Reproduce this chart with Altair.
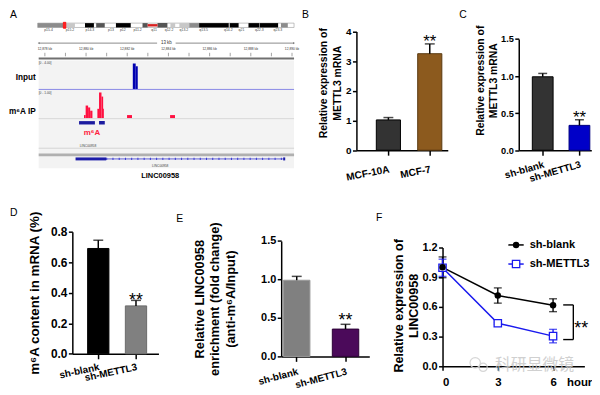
import altair as alt
import pandas as pd

FONT = "Liberation Sans"
CJK = "Noto Sans CJK SC"

# ======================= DATA =======================
# ---- Panel A: IGV view of LINC00958 (chr11) ----
CHR_LEN = 135.0
IDEO_START = [0.0, 14.8, 24.9, 30.8, 41.2, 55.2, 63.1, 69.9, 74.6, 79.8, 85.0, 101.1, 111.0, 116.9, 128.1]
IDEO_END = [13.5, 19.6, 29.6, 35.3, 49.0, 57.9, 68.3, 72.4, 79.7, 85.0, 100.6, 105.8, 116.7, 126.6, 131.7]
IDEO_STAIN = ["gpos50", "gpos25", "gpos100", "gpos75", "gpos100", "gpos75", "gpos75", "gpos25",
              "gpos25", "gpos50", "gpos100", "gpos100", "gpos100", "gpos100", "gpos50"]
CENTROMERE = [57.9, 63.1]
LOCUS = [13.5, 14.8]
IDEO_LABELS = ["p15.4", "p15.2", "p14.3", "p13", "p12", "p11.2", "q11", "q12.2", "q13.2",
               "q13.5", "q14.2", "q21", "q22.3", "q23.3"]
IDEO_LABEL_POS = [5.7, 17.0, 27.5, 38.6, 44.8, 52.6, 61.3, 69.2, 77.0, 87.4, 100.4, 107.3, 116.7, 126.5]

REGION = [12877.7, 12890.1]          # kb
RULER_TICKS = [12878, 12879, 12880, 12881, 12882, 12883, 12884, 12885, 12886, 12887, 12888, 12889, 12890]
RULER_LABELS = [12878, 12880, 12882, 12884, 12886, 12888, 12890]
RULER_TEXT = "13 kb"

INPUT_START = [12882.27, 12882.41]
INPUT_END = [12882.41, 12882.51]
INPUT_VAL = [3.7, 3.3]
INPUT_MAX = 4.0

IP_START = [12879.90, 12879.98, 12880.10, 12880.20, 12880.55, 12880.63, 12880.75, 12880.83, 12881.99, 12884.08]
IP_END = [12879.98, 12880.10, 12880.20, 12880.31, 12880.63, 12880.75, 12880.83, 12880.87, 12882.23, 12884.32]
IP_VAL = [0.12, 0.47, 0.40, 0.28, 0.35, 0.95, 0.80, 0.35, 0.12, 0.12]
IP_MAX = 1.0

PEAK_START = [12879.66, 12880.63]
PEAK_END = [12880.43, 12880.91]
EXON_START = [12879.49, 12889.57]
EXON_END = [12880.98, 12889.67]
GENE = "LINC00958"
TRACK_NAMES = ["Input", "m⁶A IP"]

# ---- Panel B ----
B_CATS = ["MCF-10A", "MCF-7"]
B_VALS = [1.02, 3.25]
B_ERRS = [0.08, 0.33]
B_FILL = ["#333333", "#8c5a1e"]

# ---- Panel C ----
SH_CATS = ["sh-blank", "sh-METTL3"]
C_VALS = [0.99, 0.335]
C_ERRS = [0.045, 0.075]
C_FILL = ["#333333", "#0000c8"]

# ---- Panel D ----
D_VALS = [0.69, 0.314]
D_ERRS = [0.054, 0.036]
D_FILL = ["#000000", "#808080"]

# ---- Panel E ----
E_VALS = [0.99, 0.355]
E_ERRS = [0.05, 0.062]
E_FILL = ["#808080", "#4b0a5a"]

# ---- Panel F ----
F_HOURS = [0, 3, 6]
F_SERIES = ["sh-blank", "sh-METTL3"]
F_BLANK = [1.0, 0.715, 0.617]
F_BLANK_ERR = [0.105, 0.077, 0.065]
F_METTL = [0.995, 0.435, 0.305]
F_METTL_ERR = [0.087, 0.01, 0.068]
F_BRACKET = dict(x0=6.55, x1=7.1, ytop=0.62, ybot=0.27)
F_STAR_POS = (7.53, 0.433)
WATERMARK = "科研显微镜"

# ======================= HELPERS =======================
ONE = pd.DataFrame({"k": [0]})


def letter(txt, x, y):
    return alt.Chart(ONE).mark_text(text=txt, align="left", baseline="middle", fontSize=10.5,
                                    font=FONT, color="black").encode(x=alt.value(x), y=alt.value(y))


def ytitle_axis(title, ticks, fmt, tsize, tlh, tx, ty, lsize):
    return alt.Axis(values=ticks, format=fmt, title=title, titleFont=FONT, titleFontSize=tsize,
                    titleFontWeight="bold", titleLineHeight=tlh, titleX=tx, titleY=ty,
                    titleAngle=270, titleAlign="center", titleBaseline="top", titleColor="black",
                    labelFont=FONT, labelFontSize=lsize, labelFontWeight="bold", labelColor="black",
                    labelPadding=1.5, tickSize=4, tickWidth=1.5, tickColor="black",
                    domainColor="black", domainWidth=1.5, grid=False)


def bar_panel(cats, vals, errs, fills, strokes, *, W, H, xr, centers, bw, ydom, yr, yticks, yfmt,
              title, tsize, tlh, tx, ty, tick_size, lab_size, angle, lab_pad, let, lxy, star_dy, cap,
              star_size):
    n = len(cats)
    step = centers[1] - centers[0]
    p_in = 1 - bw / step
    p_out = (xr / step - n + p_in) / 2
    off = centers[0] - bw / 2
    al = off / (2 * p_out * step) if p_out > 0 else 0.5
    df = pd.DataFrame({"cat": cats, "val": vals, "top": [v + e for v, e in zip(vals, errs)],
                       "fill": fills, "stroke": strokes, "star": ["", "**"]})
    xs = alt.Scale(domain=cats, range=[0, xr], paddingInner=p_in, paddingOuter=p_out, align=al)
    ys = alt.Scale(domain=ydom, range=yr, nice=False, zero=False)
    xax = alt.Axis(title=None, labelAngle=360 - angle, labelAlign="right", labelBaseline="top",
                   labelFont=FONT, labelFontSize=lab_size, labelFontWeight="bold", labelColor="black",
                   labelPadding=lab_pad, tickSize=5, tickWidth=1.5, tickColor="black",
                   domainColor="black", domainWidth=1.5, grid=False)
    yax = ytitle_axis(title, yticks, yfmt, tsize, tlh, tx, ty, tick_size)
    X = alt.X("cat:N", scale=xs, axis=xax, sort=cats)
    base = alt.Chart(df)
    bars = base.mark_bar(strokeWidth=1).encode(
        x=X, y=alt.Y("val:Q", scale=ys, axis=yax),
        fill=alt.Fill("fill:N", scale=None), stroke=alt.Stroke("stroke:N", scale=None))
    err = base.mark_rule(strokeWidth=1.5, color="black").encode(
        x=X, y=alt.Y("val:Q", scale=ys, axis=yax), y2="top:Q")
    caps = base.mark_tick(orient="horizontal", size=cap, thickness=1.5, color="black").encode(
        x=X, y=alt.Y("top:Q", scale=ys, axis=yax))
    stars = base.mark_text(fontSize=star_size, font=FONT, baseline="alphabetic", dy=star_dy,
                           color="black").encode(x=X, y=alt.Y("top:Q", scale=ys, axis=yax),
                                                 text="star:N")
    return alt.layer(bars, err, caps, stars, letter(let, *lxy)).properties(width=W, height=H)


# ======================= PANEL A =======================
W_A, H_A = 321.0, 163
G_RANGE = [0, 258]


def gx(field):
    return alt.X(field, scale=alt.Scale(domain=REGION, range=G_RANGE, nice=False, zero=False), axis=None)


ideo_sc = alt.Scale(domain=[0, CHR_LEN], range=[-1, 258], nice=False, zero=False)
stain_col = {"gpos25": "#c8c8c8", "gpos50": "#8c8c8c", "gpos75": "#555555", "gpos100": "#000000"}
ideo_df = pd.DataFrame({"s": IDEO_START, "e": IDEO_END, "c": [stain_col[s] for s in IDEO_STAIN]})
REG_DF = pd.DataFrame({"s": [REGION[0]], "e": [REGION[1]]})

a_layers = []
a_layers.append(alt.Chart(pd.DataFrame({"s": [0.0], "e": [CHR_LEN]})).mark_rect(
    fill="white", stroke="#9a9a9a", strokeWidth=0.6).encode(
    x=alt.X("s:Q", scale=ideo_sc, axis=None), x2="e:Q", y=alt.value(3.3), y2=alt.value(7.7)))
a_layers.append(alt.Chart(ideo_df).mark_rect().encode(
    x=alt.X("s:Q", scale=ideo_sc, axis=None), x2="e:Q", y=alt.value(3.3), y2=alt.value(7.7),
    color=alt.Color("c:N", scale=None)))
a_layers.append(alt.Chart(pd.DataFrame({"s": [CENTROMERE[0]], "e": [CENTROMERE[1]]})).mark_rect(
    color="#d82020").encode(x=alt.X("s:Q", scale=ideo_sc, axis=None), x2="e:Q",
                            y=alt.value(4.3), y2=alt.value(6.7)))
a_layers.append(alt.Chart(pd.DataFrame({"s": [LOCUS[0]], "e": [LOCUS[1]]})).mark_rect(
    fill="#ff2020", stroke="#ff0000", strokeWidth=0.8).encode(
    x=alt.X("s:Q", scale=ideo_sc, axis=None), x2="e:Q", y=alt.value(2.5), y2=alt.value(8.5)))
a_layers.append(alt.Chart(pd.DataFrame({"p": IDEO_LABEL_POS, "t": IDEO_LABELS})).mark_text(
    fontSize=3.5, font=FONT, color="#444444").encode(
    x=alt.X("p:Q", scale=ideo_sc, axis=None), y=alt.value(10.3), text="t:N"))

# ruler
mid = (REGION[0] + REGION[1]) / 2
a_layers.append(alt.Chart(pd.DataFrame({"s": [REGION[0], mid + 0.45], "e": [mid - 0.45, REGION[1]]}))
                .mark_rule(color="#555555", strokeWidth=0.7).encode(x=gx("s:Q"), x2="e:Q", y=alt.value(23.5)))
a_layers.append(alt.Chart(pd.DataFrame({"p": [REGION[0], REGION[1]], "sh": ["triangle-left", "triangle-right"]}))
                .mark_point(filled=True, size=5, color="#555555").encode(
    x=gx("p:Q"), y=alt.value(23.5), shape=alt.Shape("sh:N", scale=None)))
a_layers.append(alt.Chart(pd.DataFrame({"p": [mid]})).mark_text(
    text=RULER_TEXT, fontSize=4.5, font=FONT, color="#333333").encode(x=gx("p:Q"), y=alt.value(23.5)))
a_layers.append(alt.Chart(pd.DataFrame({"p": RULER_LABELS, "t": [f"{v:,} kb" for v in RULER_LABELS]}))
                .mark_text(fontSize=3.3, font=FONT, color="#333333").encode(
    x=gx("p:Q"), y=alt.value(29.3), text="t:N"))
a_layers.append(alt.Chart(pd.DataFrame({"p": RULER_TICKS})).mark_rule(color="#666666", strokeWidth=0.6)
                .encode(x=gx("p:Q"), y=alt.value(33.3), y2=alt.value(36.8)))
a_layers.append(alt.Chart(REG_DF).mark_rule(color="#707070", strokeWidth=2).encode(
    x=gx("s:Q"), x2="e:Q", y=alt.value(39)))
# track background
a_layers.append(alt.Chart(REG_DF).mark_rect(color="#f3f3f3").encode(
    x=gx("s:Q"), x2="e:Q", y=alt.value(41), y2=alt.value(150)))
# input track
inp_df = pd.DataFrame({"s": INPUT_START, "e": INPUT_END, "v": INPUT_VAL, "z": 0.0})
a_layers.append(alt.Chart(inp_df).mark_rect(color="#0000b0").encode(
    x=gx("s:Q"), x2="e:Q",
    y=alt.Y("v:Q", scale=alt.Scale(domain=[0, INPUT_MAX], range=[70, 42], nice=False), axis=None),
    y2="z:Q"))
a_layers.append(alt.Chart(REG_DF).mark_rule(color="#8a8ae6", strokeWidth=1).encode(
    x=gx("s:Q"), x2="e:Q", y=alt.value(70.3)))
a_layers.append(alt.Chart(pd.DataFrame({"p": [REGION[0]]})).mark_text(
    text=f"[0 - {INPUT_MAX:.2f}]", fontSize=3.3, font=FONT, align="left", color="#444444").encode(
    x=gx("p:Q"), y=alt.value(44)))
# m6A IP track
ip_df = pd.DataFrame({"s": IP_START, "e": IP_END, "v": IP_VAL, "z": 0.0})
a_layers.append(alt.Chart(ip_df).mark_rect(color="#ff1040").encode(
    x=gx("s:Q"), x2="e:Q",
    y=alt.Y("v:Q", scale=alt.Scale(domain=[0, IP_MAX], range=[99.5, 72], nice=False), axis=None),
    y2="z:Q"))
a_layers.append(alt.Chart(REG_DF).mark_rule(color="#d8d8d8", strokeWidth=1).encode(
    x=gx("s:Q"), x2="e:Q", y=alt.value(99.8)))
a_layers.append(alt.Chart(pd.DataFrame({"p": [REGION[0]]})).mark_text(
    text=f"[0 - {IP_MAX:.2f}]", fontSize=3.3, font=FONT, align="left", color="#444444").encode(
    x=gx("p:Q"), y=alt.value(74)))
# peak calls
a_layers.append(alt.Chart(pd.DataFrame({"s": PEAK_START, "e": PEAK_END})).mark_rect(
    color="#1c1ca0").encode(x=gx("s:Q"), x2="e:Q", y=alt.value(102.3), y2=alt.value(105.7)))
a_layers.append(alt.Chart(pd.DataFrame({"p": [(PEAK_START[0] + PEAK_END[1]) / 2]})).mark_text(
    text="m⁶A", fontSize=8, font=FONT, fontWeight="bold", color="#ff2040").encode(
    x=gx("p:Q"), y=alt.value(114.5)))
a_layers.append(alt.Chart(pd.DataFrame({"p": [(PEAK_START[0] + PEAK_END[0]) / 2 + 0.05]})).mark_text(
    text=GENE, fontSize=3.3, font=FONT, color="#444444").encode(x=gx("p:Q"), y=alt.value(127.3)))
a_layers.append(alt.Chart(REG_DF).mark_rule(color="#cccccc", strokeWidth=0.8).encode(
    x=gx("s:Q"), x2="e:Q", y=alt.value(129.7)))
a_layers.append(alt.Chart(REG_DF).mark_rule(color="#b0b0b0", strokeWidth=2.6).encode(
    x=gx("s:Q"), x2="e:Q", y=alt.value(136.4)))
# gene model
a_layers.append(alt.Chart(pd.DataFrame({"s": [EXON_END[0]], "e": [EXON_START[1]]})).mark_rule(
    color="#3a3ad0", strokeWidth=0.8).encode(x=gx("s:Q"), x2="e:Q", y=alt.value(140.5)))
a_layers.append(alt.Chart(pd.DataFrame({"s": [EXON_END[0]], "e": [EXON_START[1]]})).mark_rule(
    color="#3a3ad0", strokeWidth=2.2, strokeDash=[1, 5.3]).encode(x=gx("s:Q"), x2="e:Q", y=alt.value(140.5)))
a_layers.append(alt.Chart(pd.DataFrame({"s": EXON_START, "e": EXON_END})).mark_rect(
    color="#1c1ca8").encode(x=gx("s:Q"), x2="e:Q", y=alt.value(139), y2=alt.value(142)))
a_layers.append(alt.Chart(pd.DataFrame({"p": [mid - 0.3]})).mark_text(
    text=GENE, fontSize=3.3, font=FONT, color="#444444").encode(x=gx("p:Q"), y=alt.value(147.7)))
a_layers.append(alt.Chart(pd.DataFrame({"p": [mid - 0.3]})).mark_text(
    text=GENE, fontSize=7.5, font=FONT, fontWeight="bold", color="black").encode(
    x=gx("p:Q"), y=alt.value(158)))
# track labels
for name, yy in zip(TRACK_NAMES, [59, 93]):
    a_layers.append(alt.Chart(ONE).mark_text(
        text=name, fontSize=8.3, font=FONT, fontWeight="bold", align="right", baseline="middle",
        color="black").encode(x=alt.value(-3), y=alt.value(yy)))
a_layers.append(letter("A", -29, -5))

panelA = alt.layer(*a_layers).resolve_scale(x="independent", y="independent").properties(
    width=W_A, height=H_A)

# ======================= PANELS B / C =======================
panelB = bar_panel(B_CATS, B_VALS, B_ERRS, B_FILL, ["#000000", "#5a3a10"],
                   W=164.0, H=131.7, xr=92.3, centers=[32.3, 74.1], bw=24.4,
                   ydom=[0, 4], yr=[131.7, 11.7], yticks=[0, 1, 2, 3, 4], yfmt="d",
                   title=["Relative expression of", "METTL3 mRNA"], tsize=10.5, tlh=14.5, tx=-38.5, ty=63.5,
                   tick_size=10, lab_size=10.2, angle=11, lab_pad=9, let="B", lxy=(-55, -5),
                   star_dy=3, cap=10, star_size=17)
panelC = bar_panel(SH_CATS, C_VALS, C_ERRS, C_FILL, ["#000000", "#000080"],
                   W=73.3, H=131.7, xr=73.3, centers=[24.2, 61.3], bw=21,
                   ydom=[0, 1.5], yr=[131.7, 19.3], yticks=[0, 0.5, 1.0, 1.5], yfmt=".1f",
                   title=["Relative expression of", "METTL3 mRNA"], tsize=10.5, tlh=14, tx=-44, ty=61,
                   tick_size=9.3, lab_size=10, angle=16, lab_pad=4, let="C", lxy=(-60, -5),
                   star_dy=3, cap=9, star_size=17)

# ======================= PANELS D / E =======================
panelD = bar_panel(SH_CATS, D_VALS, D_ERRS, D_FILL, ["#000000", "#6a6a6a"],
                   W=211, H=123.4, xr=87, centers=[26.2, 64.3], bw=21.5,
                   ydom=[0, 0.8], yr=[123.4, 0], yticks=[0, 0.2, 0.4, 0.6, 0.8], yfmt=".1f",
                   title="m⁶A content in mRNA (%)", tsize=13.5, tlh=15, tx=-45, ty=61.7,
                   tick_size=12, lab_size=10, angle=12, lab_pad=3, let="D", lxy=(-63, -19),
                   star_dy=5.5, cap=10, star_size=18)
panelE = bar_panel(SH_CATS, E_VALS, E_ERRS, E_FILL, ["#9a9a9a", "#2a0035"],
                   W=163, H=126, xr=89, centers=[15.7, 65], bw=26.7,
                   ydom=[0, 1.5], yr=[126, 9.4], yticks=[0, 0.5, 1.0, 1.5], yfmt=".1f",
                   title=["Relative LINC00958", "enrichment (fold change)", "(anti-m⁶A/Input)"],
                   tsize=13, tlh=15.5, tx=-88.5, ty=67.7,
                   tick_size=11, lab_size=10, angle=15, lab_pad=5, let="E", lxy=(-106, -12.3),
                   star_dy=2, cap=10, star_size=18)

# ======================= PANEL F =======================
W_F, H_F = 143.3, 136
fx = alt.Scale(domain=[0, 7.7], range=[0, W_F], nice=False, zero=False)
fy = alt.Scale(domain=[0, 1.2], range=[H_F, 16], nice=False, zero=False)
fxax = alt.Axis(values=F_HOURS, format="d", title="hour", titleX=138, titleY=16.5, titleAlign="center",
                titleBaseline="middle", titleFont=FONT, titleFontSize=11.5, titleFontWeight="bold",
                titleColor="black", labelFont=FONT, labelFontSize=11.5, labelFontWeight="bold",
                labelColor="black", labelPadding=6, tickSize=4, tickWidth=1.5, tickColor="black",
                domainColor="black", domainWidth=1.5, grid=False)
fyax = ytitle_axis(["Relative expression of", "LINC00958"], [0, 0.3, 0.6, 0.9, 1.2], ".1f",
                   12.7, 15.5, -50.5, 74.4, 11)
FX = alt.X("t:Q", scale=fx, axis=fxax)
col_sc = alt.Scale(domain=F_SERIES, range=["#000000", "#1a1aee"])

f_rows = []
for s, vals, errs in [(F_SERIES[0], F_BLANK, F_BLANK_ERR), (F_SERIES[1], F_METTL, F_METTL_ERR)]:
    for t, v, e in zip(F_HOURS, vals, errs):
        f_rows.append({"series": s, "t": t, "m": v, "lo": v - e, "hi": v + e})
fdf = pd.DataFrame(f_rows)
cap_df = pd.concat([fdf.assign(c=fdf["lo"]), fdf.assign(c=fdf["hi"])])

f_err = alt.Chart(fdf).mark_rule(strokeWidth=1.4).encode(
    x=FX, y=alt.Y("lo:Q", scale=fy, axis=fyax), y2="hi:Q",
    color=alt.Color("series:N", scale=col_sc, legend=None))
f_caps = alt.Chart(cap_df).mark_tick(orient="horizontal", size=8, thickness=1.4).encode(
    x=FX, y=alt.Y("c:Q", scale=fy, axis=fyax), color=alt.Color("series:N", scale=col_sc, legend=None))
f_lines = alt.Chart(fdf).mark_line(strokeWidth=1.5).encode(
    x=FX, y=alt.Y("m:Q", scale=fy, axis=fyax), color=alt.Color("series:N", scale=col_sc, legend=None))
f_sq = alt.Chart(fdf[fdf.series == F_SERIES[1]]).mark_point(
    shape="square", filled=True, fill="white", stroke="#1a1aee", strokeWidth=1.3, size=55, opacity=1).encode(
    x=FX, y=alt.Y("m:Q", scale=fy, axis=fyax))
f_dot = alt.Chart(fdf[fdf.series == F_SERIES[0]]).mark_point(
    shape="circle", filled=True, color="black", size=42, opacity=1).encode(
    x=FX, y=alt.Y("m:Q", scale=fy, axis=fyax))

br = F_BRACKET
br_df = pd.DataFrame({"t": [br["x0"], br["x0"], br["x1"]], "x2": [br["x1"], br["x1"], br["x1"]],
                      "y": [br["ytop"], br["ybot"], br["ybot"]], "y2": [br["ytop"], br["ybot"], br["ytop"]]})
f_br = alt.Chart(br_df).mark_rule(color="black", strokeWidth=1.4).encode(
    x=FX, x2="x2:Q", y=alt.Y("y:Q", scale=fy, axis=fyax), y2="y2:Q")
f_star = alt.Chart(pd.DataFrame({"t": [F_STAR_POS[0]], "y": [F_STAR_POS[1]]})).mark_text(
    text="**", fontSize=18, font=FONT, baseline="alphabetic", dy=10.3, color="black").encode(
    x=FX, y=alt.Y("y:Q", scale=fy, axis=fyax))

# faint watermark (WeChat logo + account name)
f_wm = [
    alt.Chart(ONE).mark_point(shape="circle", filled=False, color="#d2d2d2", strokeWidth=1.2, size=110,
                              opacity=0.9).encode(x=alt.value(33), y=alt.value(132.5)),
    alt.Chart(ONE).mark_point(shape="circle", filled=False, color="#d2d2d2", strokeWidth=1.2, size=70,
                              opacity=0.9).encode(x=alt.value(41), y=alt.value(137)),
    alt.Chart(ONE).mark_text(text=WATERMARK, fontSize=16, font=CJK, color="#c8c8c8", opacity=0.85,
                             baseline="middle").encode(x=alt.value(93), y=alt.value(134.4)),
]

# legend (drawn by hand, GraphPad style: line + marker + label)
LEG_Y = [13.4, 32.7]
LEG_COL = ["#000000", "#1a1aee"]
f_leg = []
for i, s in enumerate(F_SERIES):
    f_leg.append(alt.Chart(ONE).mark_rule(strokeWidth=1.5, color=LEG_COL[i]).encode(
        x=alt.value(66.5), x2=alt.value(82), y=alt.value(LEG_Y[i])))
    if i == 0:
        f_leg.append(alt.Chart(ONE).mark_point(shape="circle", filled=True, color="black", size=42,
                                               opacity=1).encode(x=alt.value(74.3), y=alt.value(LEG_Y[i])))
    else:
        f_leg.append(alt.Chart(ONE).mark_point(shape="square", filled=True, fill="white", stroke=LEG_COL[i],
                                               strokeWidth=1.3, size=55, opacity=1).encode(
            x=alt.value(74.3), y=alt.value(LEG_Y[i])))
    f_leg.append(alt.Chart(ONE).mark_text(text=s, align="left", baseline="middle", fontSize=11.2, font=FONT,
                                          fontWeight="bold", color="black").encode(
        x=alt.value(88), y=alt.value(LEG_Y[i])))

panelF = alt.layer(*f_wm, f_err, f_caps, f_lines, f_sq, f_dot, f_br, f_star, *f_leg,
                   letter("F", -67.3, -14)).properties(width=W_F, height=H_F)

spacer = alt.Chart(ONE).mark_point(opacity=0).encode(x=alt.value(0), y=alt.value(0)).properties(
    width=34, height=1)

top = alt.hconcat(panelA, panelB, panelC, spacing=0, bounds="flush")
bottom = alt.hconcat(spacer, panelD, panelE, panelF, spacing=0, bounds="flush")

chart = alt.vconcat(top, bottom, spacing=24).properties(padding=0).configure(
    font=FONT).configure_view(stroke=None)

chart.save("out.html", embed_options={"renderer": "svg", "actions": False})
